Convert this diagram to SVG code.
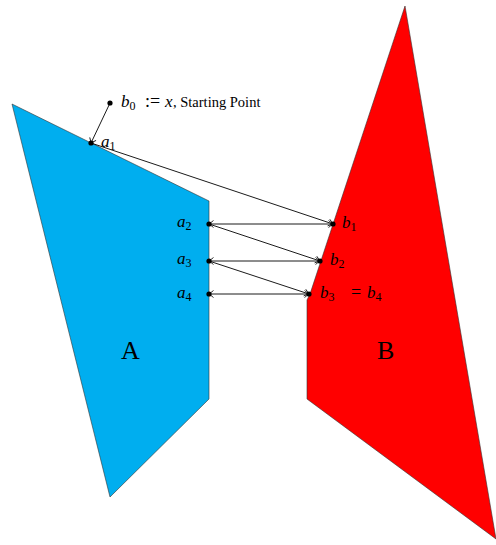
<svg xmlns="http://www.w3.org/2000/svg" width="496" height="545" viewBox="0 0 496 545">
<defs>
<marker id="to" viewBox="-6 -5 8 10" markerWidth="8" markerHeight="10" refX="0" refY="0" orient="auto-start-reverse" markerUnits="userSpaceOnUse">
<path d="M-4.5,-3.5 Q-1.2,-0.8 0,0 Q-1.2,0.8 -4.5,3.5" fill="none" stroke="#000" stroke-width="0.8"/>
</marker>
<style>
.poly{stroke:#333;stroke-width:0.6}
.c{stroke:#000;stroke-width:0.9;fill:none}
.dot{fill:#000}
.m{font-family:"Liberation Serif","Times New Roman",serif;font-style:italic;font-size:17px;fill:#000}
.sub{font-style:normal;font-size:12px}
.r{font-family:"Liberation Serif","Times New Roman",serif;font-size:14.5px;fill:#000}
.op{font-family:"Liberation Serif","Times New Roman",serif;font-size:18px;fill:#000}
.big{font-family:"Liberation Serif","Times New Roman",serif;font-size:26px;fill:#000}
</style>
</defs>
<g id="setA">
<polygon class="poly" points="12,104 209,201 209,399 110,497" fill="#00AEEF"/>
<text class="big" x="121" y="359">A</text>
</g>
<g id="setB">
<polygon class="poly" points="405,6 496,539 307,399 307,300 310,294" fill="#FF0000"/>
<text class="big" x="377" y="359">B</text>
</g>
<g id="connectors">
<line class="c" x1="110" y1="103" x2="91" y2="143" marker-end="url(#to)"/>
<line class="c" x1="91" y1="143" x2="333" y2="224" marker-end="url(#to)"/>
<line class="c" x1="209" y1="224" x2="333" y2="224" marker-start="url(#to)" marker-end="url(#to)"/>
<line class="c" x1="209" y1="224" x2="320" y2="261" marker-end="url(#to)"/>
<line class="c" x1="209" y1="261" x2="320" y2="261" marker-start="url(#to)" marker-end="url(#to)"/>
<line class="c" x1="209" y1="261" x2="309" y2="294" marker-end="url(#to)"/>
<line class="c" x1="209" y1="294" x2="309" y2="294" marker-start="url(#to)" marker-end="url(#to)"/>
</g>
<g id="b0">
<circle class="dot" cx="110" cy="103" r="2.6"/>
<text class="m" x="121" y="107">b<tspan class="sub" dy="2.5">0</tspan></text>
<text class="op" x="145" y="107">:=</text>
<text class="m" x="165" y="107">x</text>
<text class="r" x="173" y="107">, Starting Point</text>
</g>
<g id="a1">
<circle class="dot" cx="91" cy="143" r="2.6"/>
<text class="m" x="101" y="147">a<tspan class="sub" dy="2.5">1</tspan></text>
</g>
<g id="a2">
<circle class="dot" cx="209" cy="224" r="2.6"/>
<text class="m" x="177" y="227">a<tspan class="sub" dy="2.5">2</tspan></text>
</g>
<g id="a3">
<circle class="dot" cx="209" cy="261" r="2.6"/>
<text class="m" x="177" y="264">a<tspan class="sub" dy="2.5">3</tspan></text>
</g>
<g id="a4">
<circle class="dot" cx="209" cy="294" r="2.6"/>
<text class="m" x="177" y="298">a<tspan class="sub" dy="2.5">4</tspan></text>
</g>
<g id="b1">
<circle class="dot" cx="333" cy="224" r="2.6"/>
<text class="m" x="342" y="228">b<tspan class="sub" dy="2.5">1</tspan></text>
</g>
<g id="b2">
<circle class="dot" cx="320" cy="261" r="2.6"/>
<text class="m" x="330" y="265">b<tspan class="sub" dy="2.5">2</tspan></text>
</g>
<g id="b3">
<circle class="dot" cx="309" cy="294" r="2.6"/>
<text class="m" x="320" y="298">b<tspan class="sub" dy="2.5">3</tspan></text>
<text class="op" x="351" y="298">=</text>
<text class="m" x="367" y="298">b<tspan class="sub" dy="2.5">4</tspan></text>
</g>
</svg>
